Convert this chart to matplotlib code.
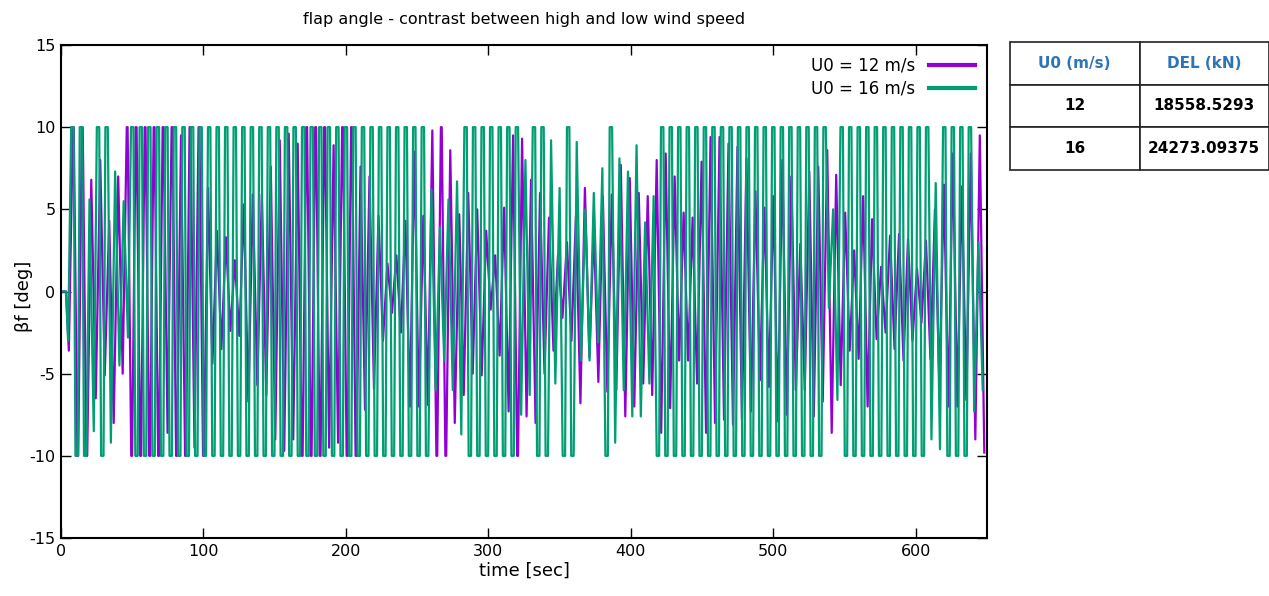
import matplotlib.pyplot as plt
import numpy as np

plt.rcParams['axes.unicode_minus'] = False

# flap angle extrema (deg), one value per half cycle
# U0 = 12 m/s
beta_12 = [
    -3.6, 10, -10, 10, -10, 6.8, -6.5, 8, -5.1, 4.3, -8, 7, -5, 10, -10, 10, -10, 10, -10, 10,
    -10, 10, -8.6, 10, -10, 9.5, -10, 10, -9.5, 10, -10, 6.3, -4.4, 3.7, -3.5, 3.3, -2.4, 1.9, -2.7, 5.3,
    -6.7, 5.9, -5.7, 5.9, -6.3, 7.6, -9, 9.2, -9.7, 9.6, -9, 9, -10, 10, -10, 10, -10, 10, -9.5, 8.9, -9.2,
    10, -10, 10, -10, 7.6, -7.2, 7, -5.9, 4.6, -3, 1.7, -1.3, 2.2, -2.5, 4.3, -7, 8.5, -7, 4.6, -6.9, 9.8,
    -10, 10, -10, 8.6, -8, 4.7, -6.3, 6, -5, 5, -5.1, 3.7, -1.1, 2.2, -3.9, 5.1, -7.3, 9.5, -10, 9.3, -7.6,
    6.8, -8, 6, -5, 4.5, -3.6, 2.2, -1.6, 3, -3, 4.6, -6.8, 6.3, -4, 3.9, -5.5, 5.8, -6.1, 5.9, -6,
    7.7, -7.6, 6.9, -7, 6, -5.6, 5.8, -6.3, 8, -8.6, 8.4, -7.1, 7, -4.2, 4.8, -4.2, 4.5, -5.6, 7.9, -8.6,
    9.4, -8, 9.4, -7.8, 9, -8.1, 8.8, -7.8, 8.1,
    -7.3, 6.1, -5.4, 5.1, -5.8, 5.8, -7.9, 8, -7.5, 7, -6, 2.9, -6, 7.3, -7.6, 7.6, -6.7, 8.6, -8.6, 7.1,
    -5.7, 4.8, -3.6, 2.5, -4.1, 5.8, -7, 4.4, -2.9, 1.5, -2.5, 3.4, -3.5, 3.5, -4.2, 3.2, -3, 1.4, -1.9, 3.1,
    -4.1, 5, -5.9, 6.5, -7, 8.4, -7, 6.4, -6.6, 8.4, -9, 9.5, -9.8,
]
# U0 = 16 m/s
beta_16 = [
    -3, 10, -10, 10, -10, 5.6, -8.5, 10, -10, 10, -9.2, 7.3, -4.5, 5.5, -2.8,
    10, -10, 10, -10, 10, -10, 10, -10, 10, -10, 10, -10, 10, -10, 10, -10, 10, -10, 10, -10,
    10, -10, 10, -10, 10, -10, 10, -10, 10, -10, 10, -10, 10, -10, 10, -10, 10, -10, 10, -10,
    10, -10, 10, -10, 10, -10, 10, -10, 10, -10, 10, -10, 10, -10, 10, -10, 10, -10, 10, -10,
    10, -10, 10, -10, 10, -10, 10, -10, 10, -10,
    6.2, -6, 3.9, -4.2, 5.6, -6, 6.7, -8.7,
    10, -10, 10, -10, 10, -10, 10, -10, 10, -10, 10, -10, 10,
    -7.5, 8, -6.3, 10, -10, 10, -10, 9.2, -5.6, 6.3, -10, 10, -10, 9.1, -4.2, 5, -4.2, 6, -3.1, 7.5,
    -10, 10, -9.2, 8.1, -6, 7.3, -7.6, 8.9, -7.6, 4.2, -5.6, 5.8,
    -10, 10, -10, 10, -10, 10, -10, 10, -10, 10, -10, 10, -10, 10, -10, 10, -10, 10, -10, 10,
    -10, 10, -10, 10, -10, 10, -10, 10, -10, 10, -10, 10, -10, 10, -10, 10, -10, 10, -10, 10,
    -1, 5, -6.6, 10, -10,
    10, -10, 10, -10, 10, -10, 10, -10, 10, -10, 10, -10, 10, -10, 10, -10, 10, -10,
    10, -9, 6.6, -9.6, 10, -10, 10, -10, 10, -10, 10, -7.3, 3, -6,
]

# timing (sec)
start_12, half_period_12 = 5.5, 3.15
start_16, half_period_16 = 5.0, 3.0
idle_until = 3.5

speeds = [12, 16]
del_kn = ["18558.5293", "24273.09375"]


def build(vals, t0, h, flat):
    t, y = [0.0, idle_until], [0.0, 0.0]
    for k, v in enumerate(vals):
        tk = t0 + h * k
        if abs(v) >= 10:  # saturated flap, hold at the limit
            t += [tk - flat / 2, tk + flat / 2]
            y += [v, v]
        else:
            t.append(tk)
            y.append(v)
    return np.array(t), np.array(y)


t12, y12 = build(beta_12, start_12, half_period_12, 0.6)
t16, y16 = build(beta_16, start_16, half_period_16, 1.7)

fig = plt.figure(figsize=(12.69, 5.96), dpi=100)
ax = fig.add_axes([61 / 1269, 1 - 538 / 596, 926 / 1269, 493 / 596])

ax.plot(t12, y12, color='#9400d3', lw=1.6, label='U0 = 12 m/s')
ax.plot(t16, y16, color='#009e73', lw=1.6, label='U0 = 16 m/s')

ax.set_xlim(0, 650)
ax.set_ylim(-15, 15)
ax.set_xticks(range(0, 601, 100))
ax.set_yticks(range(-15, 16, 5))
ax.tick_params(direction='in', top=True, right=True, length=7, width=1, labelsize=11.5, pad=4)
for s in ax.spines.values():
    s.set_linewidth(1.5)

ax.set_xlabel('time [sec]', fontsize=13, labelpad=2)
ax.set_ylabel('βf [deg]', fontsize=13)
ax.yaxis.set_label_coords(-0.030, 0.49)
ax.set_title('flap angle - contrast between high and low wind speed', fontsize=11.5, pad=15)

leg = ax.legend(loc='upper right', frameon=False, markerfirst=False, fontsize=12,
                handlelength=2.8, borderaxespad=0.3, labelspacing=0.3)
for line in leg.get_lines():
    line.set_linewidth(3)

# DEL table
tax = fig.add_axes([1010 / 1269, 1 - 170 / 596, 259 / 1269, 128 / 596])
tax.axis('off')
cells = [["U0 (m/s)", "DEL (kN)"]] + [[str(s), d] for s, d in zip(speeds, del_kn)]
tbl = tax.table(cellText=cells, bbox=[0, 0, 1, 1], cellLoc='center')
tbl.auto_set_font_size(False)
for (r, c), cell in tbl.get_celld().items():
    cell.set_linewidth(1.2)
    cell.set_edgecolor('#222222')
    txt = cell.get_text()
    txt.set_fontsize(11)
    txt.set_fontweight('bold')
    txt.set_color('#2e75b6' if r == 0 else 'black')

fig.savefig('out.png', dpi=100)
